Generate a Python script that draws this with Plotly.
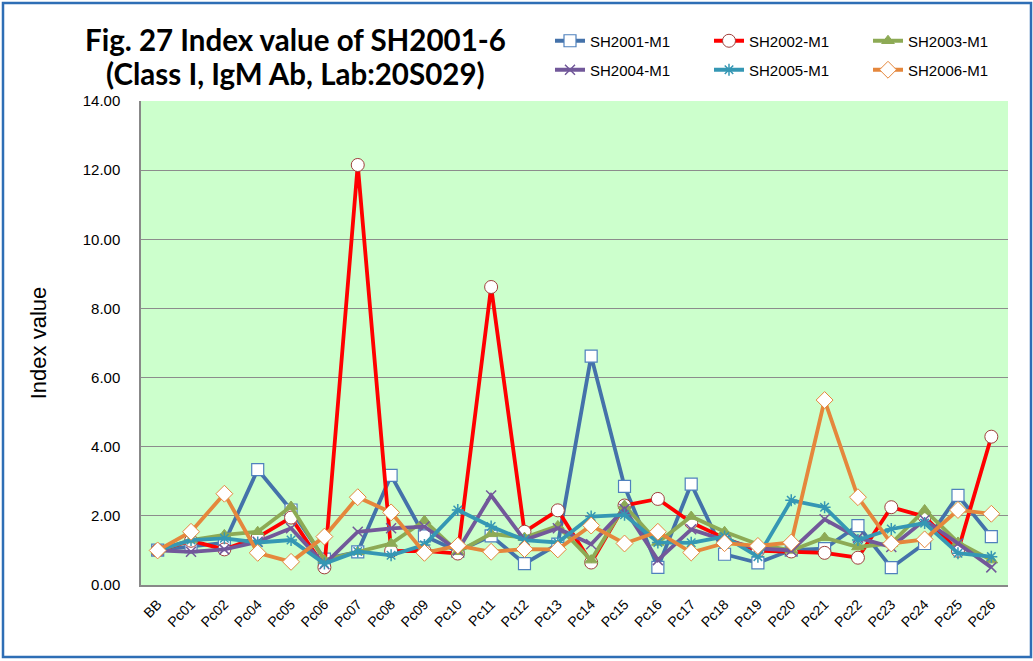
import plotly.graph_objects as go

categories = ["BB", "Pc01", "Pc02", "Pc04", "Pc05", "Pc06", "Pc07", "Pc08", "Pc09", "Pc10",
              "Pc11", "Pc12", "Pc13", "Pc14", "Pc15", "Pc16", "Pc17", "Pc18", "Pc19", "Pc20",
              "Pc21", "Pc22", "Pc23", "Pc24", "Pc25", "Pc26"]

sh2001 = [1.01, 1.11, 1.22, 3.34, 2.17, 0.75, 0.96, 3.17, 1.42, 0.98,
          1.42, 0.62, 1.18, 6.62, 2.85, 0.51, 2.92, 0.89, 0.64, 1.01,
          1.05, 1.72, 0.50, 1.20, 2.59, 1.40]
sh2002 = [1.00, 1.28, 1.03, 1.38, 1.95, 0.51, 12.15, 0.98, 0.99, 0.91,
          8.62, 1.54, 2.16, 0.65, 2.30, 2.49, 1.81, 1.35, 0.99, 0.97,
          0.93, 0.79, 2.25, 1.98, 0.99, 4.29]
sh2003 = [1.00, 1.30, 1.45, 1.54, 2.27, 0.72, 0.96, 1.20, 1.86, 0.96,
          1.48, 1.37, 1.71, 0.72, 2.30, 1.23, 1.98, 1.54, 1.18, 1.00,
          1.37, 1.10, 1.20, 2.17, 1.23, 0.72]
sh2004 = [1.00, 0.96, 1.03, 1.25, 1.64, 0.60, 1.54, 1.64, 1.69, 1.00,
          2.59, 1.30, 1.64, 1.18, 2.20, 0.72, 1.61, 1.30, 1.06, 1.00,
          1.90, 1.37, 1.10, 1.88, 1.20, 0.51]
sh2005 = [1.00, 1.30, 1.35, 1.23, 1.30, 0.62, 0.97, 0.86, 1.16, 2.17,
          1.69, 1.30, 1.23, 1.98, 2.03, 1.23, 1.22, 1.40, 0.82, 2.45,
          2.25, 1.30, 1.62, 1.79, 0.92, 0.82]
sh2006 = [1.00, 1.54, 2.64, 0.93, 0.67, 1.40, 2.54, 2.10, 0.93, 1.14,
          0.96, 1.04, 1.03, 1.72, 1.20, 1.54, 0.94, 1.21, 1.13, 1.23,
          5.35, 2.54, 1.20, 1.32, 2.17, 2.06]

series = [
    ("SH2001-M1", sh2001, "#4472AA", dict(symbol="square", size=12, color="white", line=dict(color="#4F81BD", width=1.2)), "legend"),
    ("SH2002-M1", sh2002, "#FF0000", dict(symbol="circle", size=13, color="white", line=dict(color="#A0403C", width=1)), "legend"),
    ("SH2003-M1", sh2003, "#8DAA55", dict(symbol="triangle-up", size=11, color="#8DAA55", line=dict(color="#8DAA55", width=1)), "legend"),
    ("SH2004-M1", sh2004, "#72589A", dict(symbol="x-thin", size=10, color="#72589A", line=dict(color="#72589A", width=1.5)), "legend2"),
    ("SH2005-M1", sh2005, "#3597B4", dict(symbol="asterisk", size=10, color="#3597B4", line=dict(color="#3597B4", width=1.5)), "legend2"),
    ("SH2006-M1", sh2006, "#E5873C", dict(symbol="diamond", size=13, color="white", line=dict(color="#E5873C", width=1)), "legend2"),
]

fig = go.Figure()
for name, vals, col, mk, lg in series:
    fig.add_trace(go.Scatter(x=categories, y=vals, name=name, mode="lines+markers",
                             line=dict(color=col, width=3.8), marker=mk, legend=lg))

L, R, T, B = 141, 25, 101, 76
W, H = 1033, 661
pw, ph = W - L - R, H - T - B


def px(x):
    return (x - L) / pw


def py(y):
    return (H - B - y) / ph


legend_common = dict(orientation="h", xanchor="left", yanchor="middle",
                     entrywidth=114, entrywidthmode="pixels", font=dict(size=15),
                     bgcolor="rgba(0,0,0,0)", itemwidth=30)

fig.update_layout(
    width=W, height=H,
    margin=dict(l=L, r=R, t=T, b=B, autoexpand=False),
    paper_bgcolor="white",
    plot_bgcolor="#CCFFCC",
    font=dict(family="Liberation Sans, Arial", size=14, color="black"),
    showlegend=True,
    legend=dict(x=px(550), y=py(41), **legend_common),
    legend2=dict(x=px(550), y=py(70), **legend_common),
    annotations=[
        dict(text="<b>Fig. 27 Index value of SH2001-6</b>", xref="paper", yref="paper",
             x=px(295), y=py(39), xanchor="center", yanchor="middle", showarrow=False,
             font=dict(family="Lato", size=29.5, color="black")),
        dict(text="<b>(Class I, IgM Ab, Lab:20S029)</b>", xref="paper", yref="paper",
             x=px(295), y=py(74), xanchor="center", yanchor="middle", showarrow=False,
             font=dict(family="Lato", size=29.5, color="black")),
    ],
    shapes=[dict(type="rect", xref="paper", yref="paper", x0=px(3), x1=px(1031), y0=py(657), y1=py(3),
                 line=dict(color="#2E6EB5", width=2.5), layer="below")],
)
fig.update_xaxes(type="category", range=[-0.5, len(categories) - 0.5], tickangle=-45,
                 tickfont=dict(size=14), showgrid=False,
                 showline=True, linecolor="#888888", linewidth=1.5, ticks="outside",
                 ticklen=4, tickcolor="rgba(0,0,0,0)", automargin=False)
fig.update_yaxes(range=[0, 14], dtick=2, tickformat=".2f", showgrid=True, gridcolor="#8C8C8C",
                 gridwidth=1, showline=True, linecolor="#888888", linewidth=1.5,
                 ticks="outside", ticklen=16, tickcolor="rgba(0,0,0,0)",
                 tickfont=dict(size=15), zeroline=False, automargin=False,
                 title=dict(text="Index value", font=dict(size=22), standoff=30))

fig.write_html("out.html", config={"displayModeBar": False},
               post_script="document.body.style.margin='0';document.body.style.overflow='hidden';")
